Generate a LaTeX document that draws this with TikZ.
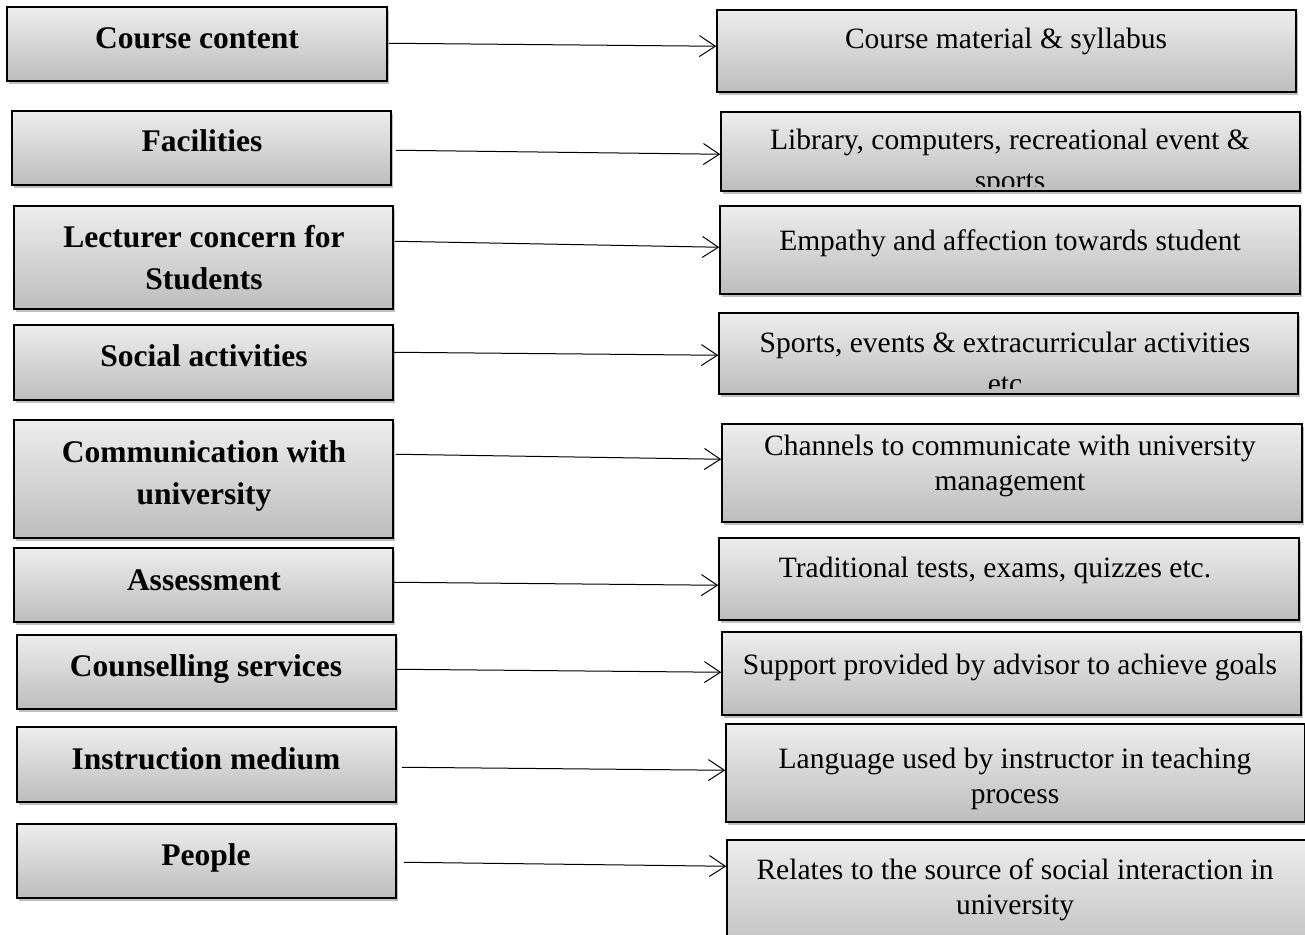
\documentclass[tikz,border=0pt]{standalone}
\usepackage{fontspec}
\setmainfont{Liberation Serif}
\usetikzlibrary{arrows.meta,shadows,fit,calc}
\begin{document}
\begin{tikzpicture}[x=1pt,y=-1pt,
  box/.style={draw=black, line width=1.5pt, rectangle, inner sep=0pt,
    top color=black!7, bottom color=black!26,
    drop shadow={shadow xshift=2pt, shadow yshift=-3pt, fill=black, opacity=0.25}},
  ltxt/.style={font=\fontsize{31.5}{42}\selectfont\bfseries, align=center, inner sep=0pt},
  rtxt/.style={font=\fontsize{29.5}{35.5}\selectfont, align=center, inner sep=0pt},
  arr/.style={line width=1pt, -{Straight Barb[length=16pt,width=21pt,line width=1pt]}}
]
\useasboundingbox (0,0) rectangle (1305,934);
% left boxes
\node[box, fit={(7,7) (387,81)}] (L1) {};
\node[box, fit={(12,111) (391,185)}] (L2) {};
\node[box, fit={(14,206) (393,309)}] (L3) {};
\node[box, fit={(14,325) (393,400)}] (L4) {};
\node[box, fit={(14,420) (393,538)}] (L5) {};
\node[box, fit={(14,548) (393,622)}] (L6) {};
\node[box, fit={(17,635) (396,709)}] (L7) {};
\node[box, fit={(17,727) (396,802)}] (L8) {};
\node[box, fit={(17,824) (396,898)}] (L9) {};
% right boxes
\node[box, fit={(717,10) (1296,92)}] (R1) {};
\node[box, fit={(721,112) (1300,191)}] (R2) {};
\node[box, fit={(720,206) (1300,294)}] (R3) {};
\node[box, fit={(719,313) (1298,394)}] (R4) {};
\node[box, fit={(722,424) (1302,522)}] (R5) {};
\node[box, fit={(719,538) (1299,620)}] (R6) {};
\node[box, fit={(722,632) (1301,715)}] (R7) {};
\node[box, fit={(726,724) (1305,822)}] (R8) {};
\node[box, fit={(727,840) (1307,960)}] (R9) {};
% left texts
\node[ltxt] (L1t) at (197,38) {Course content};
\node[ltxt] (L2t) at (202,141) {Facilities};
\node[ltxt] (L3t) at (204,258) {Lecturer concern for\\Students};
\node[ltxt] (L4t) at (204,356) {Social activities};
\node[ltxt] (L5t) at (204,476) {Communication with\\university};
\node[ltxt] (L6t) at (204,580) {Assessment};
\node[ltxt] (L7t) at (206,669) {Counselling services};
\node[ltxt] (L8t) at (206,759) {Instruction medium};
\node[ltxt] (L9t) at (206,858) {People};
% right texts
\node[rtxt] (R1t) at (1006,41) {Course material \& syllabus};
\begin{scope}
\clip (721,112) rectangle (1300,186);
\node[rtxt] (R2t) at (1010,163) {Library, computers, recreational event \&\\[5.5pt]sports};
\end{scope}
\node[rtxt] (R3t) at (1010,243) {Empathy and affection towards student};
\begin{scope}
\clip (719,313) rectangle (1298,388);
\node[rtxt] (R4t) at (1005,363) {Sports, events \& extracurricular activities\\[5.5pt]etc};
\end{scope}
\node[rtxt] (R5t) at (1010,466) {Channels to communicate with university\\management};
\node[rtxt] (R6t) at (995,570) {Traditional tests, exams, quizzes etc.};
\node[rtxt] (R7t) at (1010,667) {Support provided by advisor to achieve goals};
\node[rtxt] (R8t) at (1015,779) {Language used by instructor in teaching\\process};
\node[rtxt] (R9t) at (1015,890) {Relates to the source of social interaction in\\university};
% arrows
\draw[arr] ($(L1.north east)+(1,37)$) -- ($(R1.north west)+(0,37)$);
\draw[arr] ($(L2.north east)+(4,40)$) -- ($(R2.north west)+(0,43)$);
\draw[arr] ($(L3.north east)+(1,36)$) -- ($(R3.north west)+(0,42)$);
\draw[arr] ($(L4.north east)+(0,28)$) -- ($(R4.north west)+(0,43)$);
\draw[arr] ($(L5.north east)+(2,35)$) -- ($(R5.north west)+(0,36)$);
\draw[arr] ($(L6.north east)+(0,35)$) -- ($(R6.north west)+(0,48)$);
\draw[arr] ($(L7.north east)+(0,35)$) -- ($(R7.north west)+(0,41)$);
\draw[arr] ($(L8.north east)+(5,41)$) -- ($(R8.north west)+(0,47)$);
\draw[arr] ($(L9.north east)+(7,39)$) -- ($(R9.north west)+(0,27)$);
\end{tikzpicture}
\end{document}
